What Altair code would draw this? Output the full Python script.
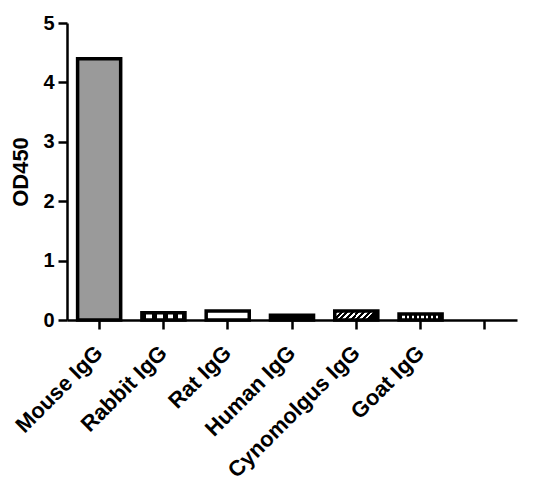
import altair as alt
import pandas as pd

categories = ["Mouse IgG", "Rabbit IgG", "Rat IgG", "Human IgG", "Cynomolgus IgG", "Goat IgG"]
values = [4.40, 0.12, 0.15, 0.08, 0.15, 0.10]
x_domain = categories + [" "]
y_ticks = [0, 1, 2, 3, 4, 5]

df = pd.DataFrame({"category": categories, "value": values})

FONT = "Liberation Sans"


def stripes(intervals, x2=1, y2=0, bg="black", fg="white"):
    stops = []
    for a, b in intervals:
        stops += [
            alt.GradientStop(color=bg, offset=a),
            alt.GradientStop(color=fg, offset=a),
            alt.GradientStop(color=fg, offset=b),
            alt.GradientStop(color=bg, offset=b),
        ]
    return alt.Gradient(gradient="linear", stops=stops, x1=0, y1=0, x2=x2, y2=y2)


fills = {
    "Mouse IgG": "#9a9a9a",
    "Rabbit IgG": stripes([(0.10, 0.23), (0.35, 0.48), (0.60, 0.72), (0.83, 0.94)]),
    "Rat IgG": "white",
    "Human IgG": "black",
    "Cynomolgus IgG": stripes([(0.08 + i * 0.125, 0.14 + i * 0.125) for i in range(7)], x2=1, y2=0.2),
    "Goat IgG": stripes([(0.08 + i * 0.11, 0.13 + i * 0.11) for i in range(8)]),
}

base = alt.Chart(df).encode(
    x=alt.X(
        "category:N",
        scale=alt.Scale(domain=x_domain, paddingInner=0.33, paddingOuter=0.165),
        sort=x_domain,
        axis=alt.Axis(
            title=None,
            labelAngle=-45,
            labelAlign="right",
            labelBaseline="middle",
            labelFontSize=22,
            labelPadding=20,
            tickSize=9,
            labelOverlap=False,
            labelLimit=300,
        ),
    ),
    y=alt.Y(
        "value:Q",
        scale=alt.Scale(domain=[0, 5], nice=False),
        axis=alt.Axis(
            values=y_ticks,
            title="OD450",
            titleFontSize=22,
            labelFontSize=20,
            tickSize=9,
            labelPadding=4,
            titlePadding=10,
        ),
    ),
)

layers = [
    base.transform_filter(alt.datum.category == c).mark_bar(
        fill=fills[c], stroke="black", strokeWidth=3.5
    )
    for c in categories
]

chart = (
    alt.layer(*layers)
    .properties(
        width=450,
        height=297,
        autosize=alt.AutoSizeParams(type="none"),
        padding={"left": 59, "top": 15, "right": 23, "bottom": 166},
        background="white",
    )
    .configure_axis(
        domainColor="black",
        domainWidth=2.5,
        tickColor="black",
        tickWidth=2.5,
        labelFont=FONT,
        labelFontWeight="bold",
        labelColor="black",
        titleFont=FONT,
        titleFontWeight="bold",
        titleColor="black",
        grid=False,
    )
    .configure_view(stroke=None)
)

chart.save("out.html", embed_options={"renderer": "svg", "actions": False})
